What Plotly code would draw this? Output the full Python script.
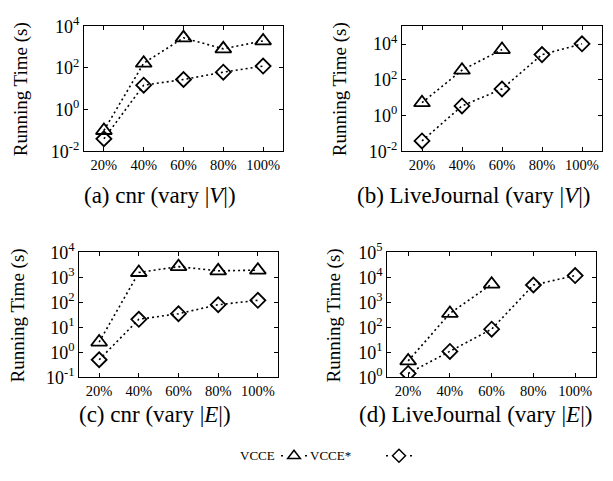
import plotly.graph_objects as go

# ---------------- data ----------------
categories = ["20%", "40%", "60%", "80%", "100%"]

a_vcce = [0.1, 170, 2800, 830, 2000]
a_vcce_star = [0.04, 15, 28, 63, 123]

b_vcce = [5.3, 350, 5000, None, None]
b_vcce_star = [0.038, 3.5, 31, 2600, 10400]

c_vcce = [2.6, 1550, 2650, 1800, 1920]
c_vcce_star = [0.51, 21, 35, 80, 120]

d_vcce = [4.6, 360, 5300, None, None]
d_vcce_star = [1.45, 11, 85, 4900, 11700]

captions = ["(a) cnr (vary |<i>V</i>|)", "(b) LiveJournal (vary |<i>V</i>|)",
            "(c) cnr (vary |<i>E</i>|)", "(d) LiveJournal (vary |<i>E</i>|)"]
series_names = ["VCCE", "VCCE*"]

# ---------------- layout helpers ----------------
W, H = 613, 481
FONT = "Liberation Serif"


def px_x(v):
    return v / W


def px_y(v):
    return 1 - v / H


panels = [
    dict(x=(84, 283), y=(15, 146), vcce=a_vcce, star=a_vcce_star, yr=(-2, 4),
         tv=[-2, 0, 2, 4], cap=(160, 192), lab=(21, 81)),
    dict(x=(402, 602), y=(15, 146), vcce=b_vcce, star=b_vcce_star, yr=(-2, 5),
         tv=[-2, 0, 2, 4], cap=(473, 192), lab=(340, 81)),
    dict(x=(79.3, 277.7), y=(251.7, 383), vcce=c_vcce, star=c_vcce_star, yr=(-1, 4),
         tv=[-1, 0, 1, 2, 3, 4], cap=(155, 422), lab=(18, 318)),
    dict(x=(387.3, 596), y=(251.7, 383), vcce=d_vcce, star=d_vcce_star, yr=(0, 5),
         tv=[0, 1, 2, 3, 4, 5], cap=(475, 422), lab=(334, 318)),
]

fig = go.Figure()
annotations = []
line_style = dict(color="black", width=1.6, dash="2px,3px")

for i, p in enumerate(panels):
    n = "" if i == 0 else str(i + 1)
    xa, ya = "x" + n, "y" + n
    fig.add_trace(go.Scatter(
        x=categories, y=p["vcce"], xaxis=xa, yaxis=ya, mode="lines+markers",
        name=series_names[0], showlegend=False, line=line_style,
        marker=dict(symbol="triangle-up-open", size=14, color="black",
                    line=dict(width=1.8, color="black"))))
    fig.add_trace(go.Scatter(
        x=categories, y=p["star"], xaxis=xa, yaxis=ya, mode="lines+markers",
        name=series_names[1], showlegend=False, line=line_style,
        marker=dict(symbol="diamond-open", size=11.5, color="black",
                    line=dict(width=1.8, color="black"))))

    axis_common = dict(showline=True, linecolor="black", linewidth=1.3, mirror="ticks",
                       ticks="inside", ticklen=4, tickwidth=1, tickcolor="black",
                       showgrid=False, zeroline=False)
    fig.layout["xaxis" + n] = dict(
        domain=[px_x(p["x"][0]), px_x(p["x"][1])], anchor=ya, type="category",
        range=[-0.5, 4.5], tickfont=dict(family=FONT, size=14.5, color="black"),
        **axis_common)
    fig.layout["yaxis" + n] = dict(
        domain=[px_y(p["y"][1]), px_y(p["y"][0])], anchor=xa, type="log",
        range=list(p["yr"]), tickvals=[10 ** t for t in p["tv"]],
        ticktext=["10<sup>%d</sup>" % t for t in p["tv"]],
        tickfont=dict(family=FONT, size=18, color="black"), **axis_common)

    annotations.append(dict(
        text=captions[i], x=px_x(p["cap"][0]), y=px_y(p["cap"][1]), xref="paper",
        yref="paper", showarrow=False, xanchor="center", yanchor="middle",
        font=dict(family=FONT, size=23, color="black")))
    annotations.append(dict(
        text="Running Time (s)", x=px_x(p["lab"][0]), y=px_y(p["lab"][1]),
        xref="paper", yref="paper", showarrow=False, textangle=-90,
        xanchor="center", yanchor="middle",
        font=dict(family=FONT, size=19, color="black")))

# legend samples (no data) - labels drawn to the left of each sample as in the original
legend_line = dict(color="black", width=1.6, dash="0px,2px,2px,22px,2px,2px")
fig.add_trace(go.Scatter(
    x=[None], y=[None], mode="lines+markers", name=" ", line=legend_line,
    marker=dict(symbol="triangle-up-open", size=11, color="black",
                line=dict(width=1.5, color="black")), showlegend=True))
fig.add_trace(go.Scatter(
    x=[None], y=[None], mode="lines+markers", name=" ", line=legend_line,
    marker=dict(symbol="diamond-open", size=10, color="black",
                line=dict(width=1.5, color="black")), showlegend=True))

annotations.append(dict(text=series_names[0], x=px_x(277), y=px_y(465), xref="paper",
                        yref="paper", showarrow=False, xanchor="right", yanchor="middle",
                        font=dict(family=FONT, size=13, color="black")))
annotations.append(dict(text=series_names[1], x=px_x(308), y=px_y(465), xref="paper",
                        yref="paper", showarrow=False, xanchor="left", yanchor="middle",
                        font=dict(family=FONT, size=13, color="black")))

fig.update_layout(
    width=W, height=H, margin=dict(l=0, r=0, t=0, b=0),
    paper_bgcolor="white", plot_bgcolor="white",
    font=dict(family=FONT, color="black"),
    annotations=annotations,
    legend=dict(orientation="h", x=px_x(274), y=px_y(465), xanchor="left",
                yanchor="middle", entrywidth=60, entrywidthmode="pixels",
                bgcolor="rgba(0,0,0,0)", font=dict(family=FONT, size=12),
                itemwidth=30, tracegroupgap=0),
)

fig.write_html("out.html", config={"displayModeBar": False},
               post_script="document.body.style.margin='0';")
